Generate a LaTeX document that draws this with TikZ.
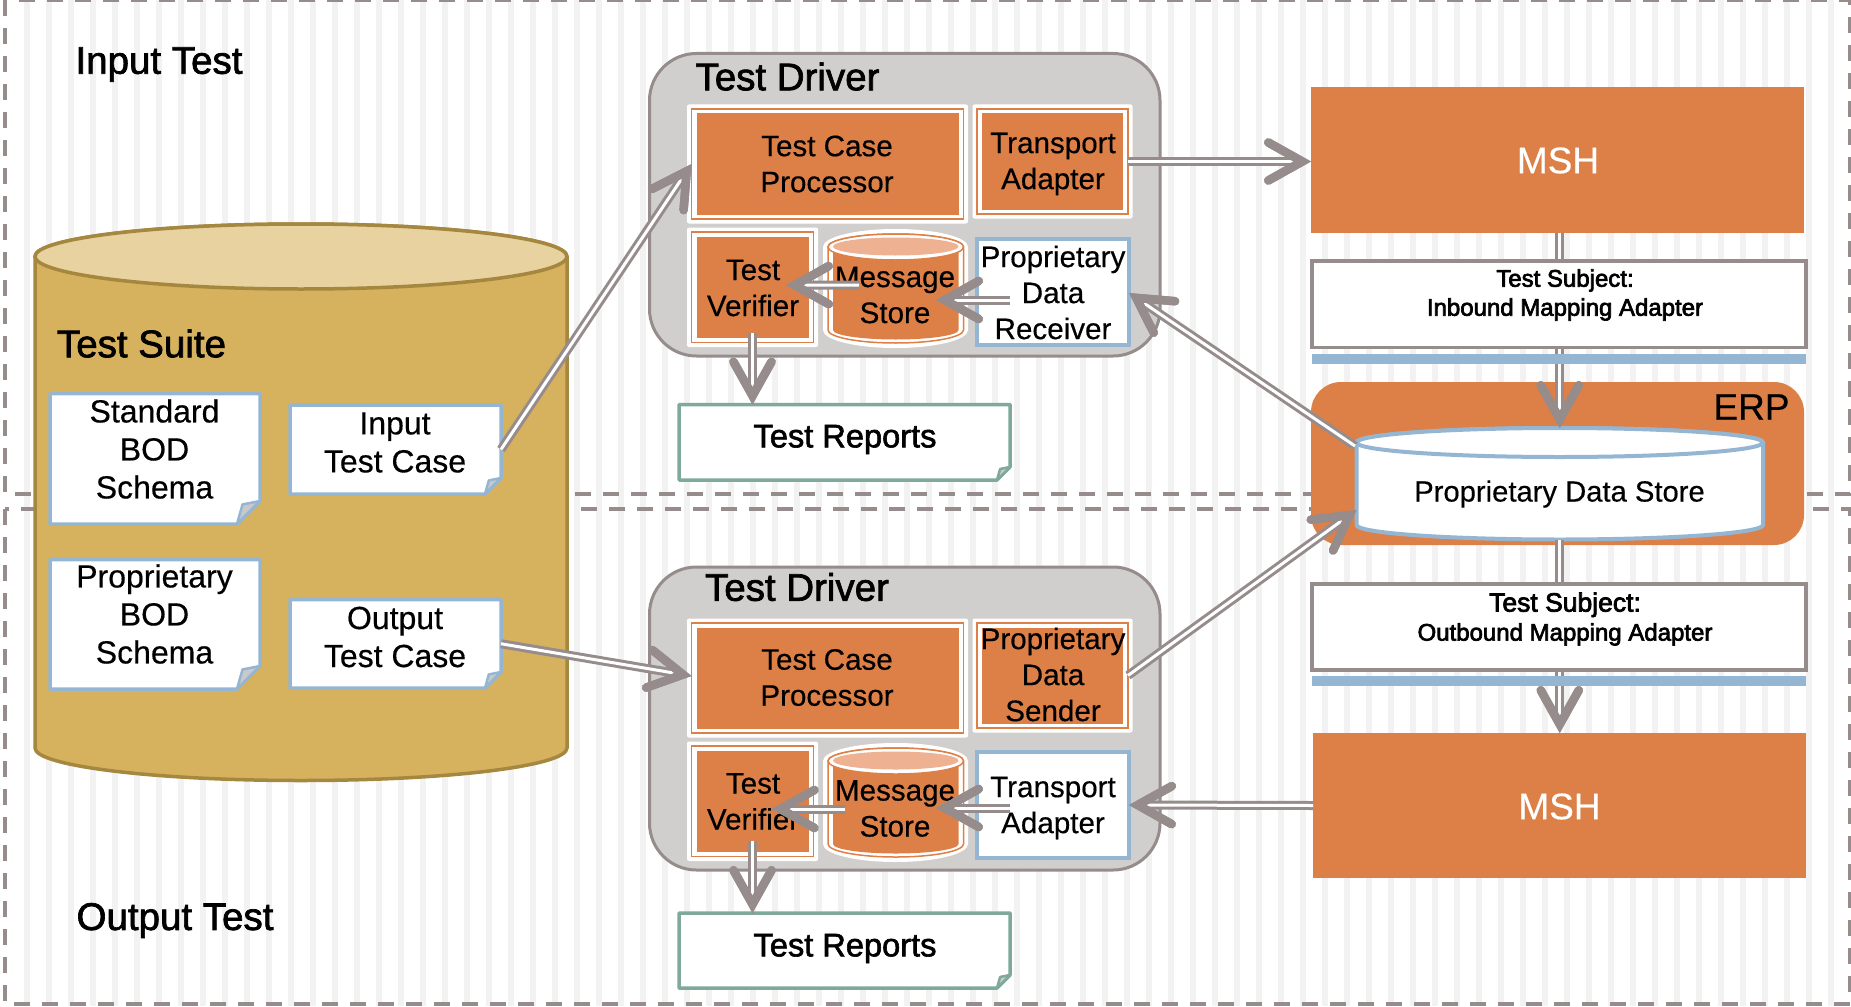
\documentclass[tikz,border=0pt]{standalone}
\usepackage{fontspec}
\setmainfont{Liberation Sans}
\newfontfamily\bolder[FakeBold=1.8]{Liberation Sans}
\newfontfamily\boldersub[FakeBold=2.8]{Liberation Sans}
\newfontfamily\medium[FakeBold=0.4]{Liberation Sans}
\usetikzlibrary{arrows.meta,calc}
\definecolor{stripe}{HTML}{F2F2F2}
\definecolor{dgray}{HTML}{968C8C}
\definecolor{orng}{HTML}{DD8047}
\definecolor{orngl}{HTML}{EEB293}
\definecolor{blu}{HTML}{95B6D3}
\definecolor{teal2}{HTML}{7FA99B}
\definecolor{gold}{HTML}{D6B15E}
\definecolor{goldt}{HTML}{E8D29F}
\definecolor{goldd}{HTML}{A5873F}
\definecolor{panel}{HTML}{D1CFCD}
\definecolor{foldg}{HTML}{C9C9C9}
\tikzset{
  anchorbox/.style={inner sep=0pt,outer sep=0pt,rectangle},
  lbl/.style={inner sep=0pt,outer sep=0pt,align=center,text=black},
  t29/.style={lbl,font=\medium\fontsize{29.6}{36}\selectfont},
  t31/.style={lbl,font=\medium\fontsize{32}{38}\selectfont},
  tbig/.style={lbl,font=\bolder\fontsize{38.5}{44}\selectfont},
  trep/.style={lbl,font=\bolder\fontsize{32.6}{38}\selectfont},
  tsub/.style={lbl,font=\boldersub\fontsize{24}{29}\selectfont},
  tmsh/.style={lbl,text=white,font=\medium\fontsize{37}{44}\selectfont},
  bound/.style={draw=dgray,line width=4pt,dash pattern=on 16pt off 12pt},
  bluebox/.style={draw=blu,fill=white,line width=3.5pt},
  subjectbox/.style={draw=dgray,fill=white,line width=3.5pt},
  drv/.style={draw=dgray,fill=panel,line width=3pt,rounded corners=47pt},
  conn/.style={preaction={draw=dgray,line width=3pt,double=white,double distance=3pt},
     draw=white,line width=0.1pt,
     -{Straight Barb[color=dgray,length=34pt,width=38pt,line width=8.5pt,line cap=round,line join=miter]}},
}
% invisible, named frame of a shape
\newcommand\bx[5]{\node[anchorbox,minimum width={(#4-#2)*1pt},minimum height={(#5-#3)*1pt}] (#1) at ({(#2+#4)/2},{(#3+#5)/2}) {};}
% framed orange box: x0 y0 x1 y1 = the thin orange frame
\newcommand\obox[5]{%
  \fill[white,rounded corners=2pt] ({#2-4.5},{#3-4.5}) rectangle ({#4+4.5},{#5+4.5});
  \draw[orng,line width=1.5pt] (#2,#3) rectangle (#4,#5);
  \fill[orng] ({#2+5},{#3+4.5}) rectangle ({#4-5},{#5-4.5});
  \bx{#1}{#2}{#3}{#4}{#5}}
% cylinder: style, x0 x1 ytop ybot ry
\newcommand\cyl[6]{%
  \pgfmathsetmacro\cxx{(#2+#3)/2}\pgfmathsetmacro\kx{0.5523*(#3-#2)/2}\pgfmathsetmacro\ky{0.5523*#6}
  \path[#1] (#2,#4) -- (#2,#5) .. controls (#2,{#5+\ky}) and ({\cxx-\kx},{#5+#6}) .. (\cxx,{#5+#6})
     .. controls ({\cxx+\kx},{#5+#6}) and (#3,{#5+\ky}) .. (#3,#5) -- (#3,#4)
     .. controls (#3,{#4-\ky}) and ({\cxx+\kx},{#4-#6}) .. (\cxx,{#4-#6})
     .. controls ({\cxx-\kx},{#4-#6}) and (#2,{#4-\ky}) .. (#2,#4) -- cycle;}
% top ellipse of a cylinder: style, x0 x1 y ry
\newcommand\cyltop[5]{%
  \pgfmathsetmacro\cxx{(#2+#3)/2}\pgfmathsetmacro\kx{0.5523*(#3-#2)/2}\pgfmathsetmacro\ky{0.5523*#5}
  \path[#1] (#2,#4) .. controls (#2,{#4+\ky}) and ({\cxx-\kx},{#4+#5}) .. (\cxx,{#4+#5})
     .. controls ({\cxx+\kx},{#4+#5}) and (#3,{#4+\ky}) .. (#3,#4)
     .. controls (#3,{#4-\ky}) and ({\cxx+\kx},{#4-#5}) .. (\cxx,{#4-#5})
     .. controls ({\cxx-\kx},{#4-#5}) and (#2,{#4-\ky}) .. (#2,#4) -- cycle;}
% sheet with folded corner: name colour x0 y0 x1 y1 fold
\newcommand\sheet[7]{%
  \draw[draw=#2,fill=white,line width=3.5pt,line join=round] (#3,#4) -- (#5,#4) -- (#5,{#6-#7}) -- ({#5-#7},#6) -- (#3,#6) -- cycle;
  \draw[draw=#2,fill=foldg,line width=2.5pt,line join=round] ({#5-#7},#6) -- ({#5-0.76*#7},{#6-0.85*#7}) -- (#5,{#6-#7}) -- cycle;
  \bx{#1}{#3}{#4}{#5}{#6}}
% message store
\newcommand\mstore[2]{%
  \cyl{fill=white}{823}{968}{#2+19}{#2+102}{18}
  \cyl{draw=orng,fill=white,line width=1.5pt}{828}{963.5}{#2+19}{#2+102}{13}
  \cyl{fill=orng}{833}{958.5}{#2+19}{#2+102}{9.5}
  \cyltop{draw=orng,fill=white,line width=1.5pt}{828}{963.5}{#2+19}{13}
  \cyltop{fill=orngl}{833}{958.5}{#2+18.5}{9}
  \bx{#1}{828}{#2+6}{963.5}{#2+115}}
\begin{document}
\begin{tikzpicture}[x=1pt,y=-1pt,line cap=butt]
\useasboundingbox (0,0) rectangle (1851,1006);
\fill[white] (0,0) rectangle (1851,1006);
\foreach \k in {0,...,82}{\fill[stripe] ({24+22*\k},0) rectangle ({30+22*\k},1006);}
% test areas
\draw[bound] (5,0) rectangle (1850,494);
\draw[bound] (5,509) rectangle (1850,1004);
\node[tbig] (inputlabel) at (159,64.5) {Input Test};
\node[tbig] (outputlabel) at (175,920.5) {Output Test};
% test suite
\cyl{draw=goldd,fill=gold,line width=3.5pt}{35}{567}{256.5}{748}{32.5}
\cyltop{draw=goldd,fill=goldt,line width=3.5pt}{35}{567}{256.5}{32.5}
\bx{suite}{35}{224}{567}{781}
\node[tbig] (suitelabel) at (141.5,343.5) {Test Suite};
\sheet{std}{blu}{50}{393.5}{260}{524}{23}
\node[t31] (stdt) at (154.5,449) {Standard\\BOD\\Schema};
\sheet{prop}{blu}{50}{559.5}{260}{689}{23}
\node[t31] (propt) at (154.5,614) {Proprietary\\BOD\\Schema};
\sheet{itc}{blu}{290}{405}{501}{494}{16}
\node[t31] (itct) at (395,442.5) {Input\\Test Case};
\sheet{otc}{blu}{290}{599.5}{501}{688}{16}
\node[t31] (otct) at (395,637) {Output\\Test Case};
% upper driver
\draw[drv] (649.5,53.5) rectangle (1160,356);
\bx{drva}{649.5}{53.5}{1160}{356}
\node[tbig] (drvat) at (787.5,76.5) {Test Driver};
\obox{tcpa}{691.5}{109}{963.5}{219}
\node[t29] (tcpat) at (827,164) {Test Case\\Processor};
\obox{taa}{977}{109}{1128}{214}
\node[t29] (taat) at (1053,164) {Transport\\Adapter};
\obox{tva}{691.5}{232}{813.5}{342.5}
\node[t29] (tvat) at (753,288) {Test\\Verifier};
\mstore{msa}{228}
\node[t29] (msat) at (895,295) {Message\\Store};
\draw[bluebox] (977,239) rectangle (1129,345);
\bx{pdr}{977}{239}{1129}{345}
\node[t29] (pdrt) at (1053,292.5) {Proprietary\\Data\\Receiver};
\sheet{tra}{teal2}{679}{404.5}{1010}{480}{13}
\node[trep] (trat) at (845,439.5) {Test Reports};
% lower driver
\draw[drv] (649.5,567) rectangle (1160,870);
\bx{drvb}{649.5}{567}{1160}{870}
\node[tbig] (drvbt) at (797,587) {Test Driver};
\obox{tcpb}{691.5}{623}{963.5}{733}
\node[t29] (tcpbt) at (827,677.5) {Test Case\\Processor};
\obox{pds}{977}{623}{1128}{728}
\node[t29] (pdst) at (1053,674.5) {Proprietary\\Data\\Sender};
\obox{tvb}{691.5}{746}{813.5}{856.5}
\node[t29] (tvbt) at (753,801.5) {Test\\Verifier};
\mstore{msb}{742}
\node[t29] (msbt) at (895,808.5) {Message\\Store};
\draw[bluebox] (977,752) rectangle (1129,858);
\bx{tab}{977}{752}{1129}{858}
\node[t29] (tabt) at (1053,808) {Transport\\Adapter};
\sheet{trb}{teal2}{679}{913}{1010}{988}{13}
\node[trep] (trbt) at (845,948.5) {Test Reports};
% right column
\fill[orng] (1311,87.5) rectangle (1804,232.5);
\bx{msha}{1311}{87.5}{1804}{232.5}
\node[tmsh] (mshat) at (1558,160.5) {MSH};
\fill[orng] (1313,733) rectangle (1806,878);
\bx{mshb}{1313}{733}{1806}{878}
\node[tmsh] (mshbt) at (1559.5,806.5) {MSH};
\fill[orng,rounded corners=30pt] (1311,382) rectangle (1804,545);
\bx{erp}{1311}{382}{1804}{545}
\node[lbl,font=\medium\fontsize{37}{42}\selectfont] (erpt) at (1751.5,407) {ERP};
\cyl{draw=blu,fill=white,line width=4pt}{1356.5}{1763}{442.5}{525}{14.5}
\cyltop{draw=blu,fill=white,line width=4pt}{1356.5}{1763}{442.5}{14.5}
\bx{store}{1356.5}{428}{1763}{540}
\node[lbl,font=\medium\fontsize{29.2}{36}\selectfont] (storet) at (1559.5,494) {Proprietary Data Store};
% connectors behind the subject boxes
\draw[conn] (msha.south -| store.north) -- (store.north);
\draw[conn] (store.south) -- (mshb.north -| store.south);
\draw[subjectbox] (1312,261) rectangle (1806,347.5);
\bx{tsa}{1312}{261}{1806}{347.5}
\node[tsub] (tsat) at (1565,295) {Test Subject:\\Inbound Mapping Adapter};
\fill[blu] (1312,354) rectangle (1806,363.5);
\bx{bara}{1312}{354}{1806}{363.5}
\draw[subjectbox] (1312,584) rectangle (1806,670);
\bx{tsb}{1312}{584}{1806}{670}
\node[tsub] (tsbt) at (1565,619) {{\fontsize{26.5}{31}\selectfont Test Subject:}\\Outbound Mapping Adapter};
\fill[blu] (1312,676) rectangle (1806,685.5);
\bx{barb}{1312}{676}{1806}{685.5}
% connectors
\draw[conn] (itc.east) -- (tcpa.west);
\draw[conn] (otc.east) -- ([yshift=2pt]tcpb.west);
\draw[conn] (taa.east) -- (taa.east -| msha.west);
\draw[conn] ([xshift=-104.5pt,yshift=3.5pt]msa.east) -- ([xshift=-27.5pt,yshift=2pt]tva.east);
\draw[conn] ([xshift=33pt,yshift=-8pt]pdr.west) -- ([xshift=-27.5pt,yshift=-11.5pt]msa.east);
\draw[conn] ([yshift=10pt]tva.south) -- (tva.south |- tra.north);
\draw[conn] ([xshift=-1.5pt,yshift=38pt]store.west) -- ([yshift=-1pt]pdr.east);
\draw[conn] (pds.east) -- ([yshift=-26pt]store.west);
\draw[conn] (mshb.west) -- (tab.east);
\draw[conn] ([xshift=-118.5pt,yshift=-6.5pt]msb.east) -- ([xshift=-41.8pt,yshift=-7.75pt]tvb.east);
\draw[conn] ([xshift=33pt,yshift=-3pt]tab.west) -- ([xshift=-27.5pt,yshift=-5.5pt]msb.east);
\draw[conn] ([yshift=16pt]tvb.south) -- (tvb.south |- trb.north);
\end{tikzpicture}
\end{document}
